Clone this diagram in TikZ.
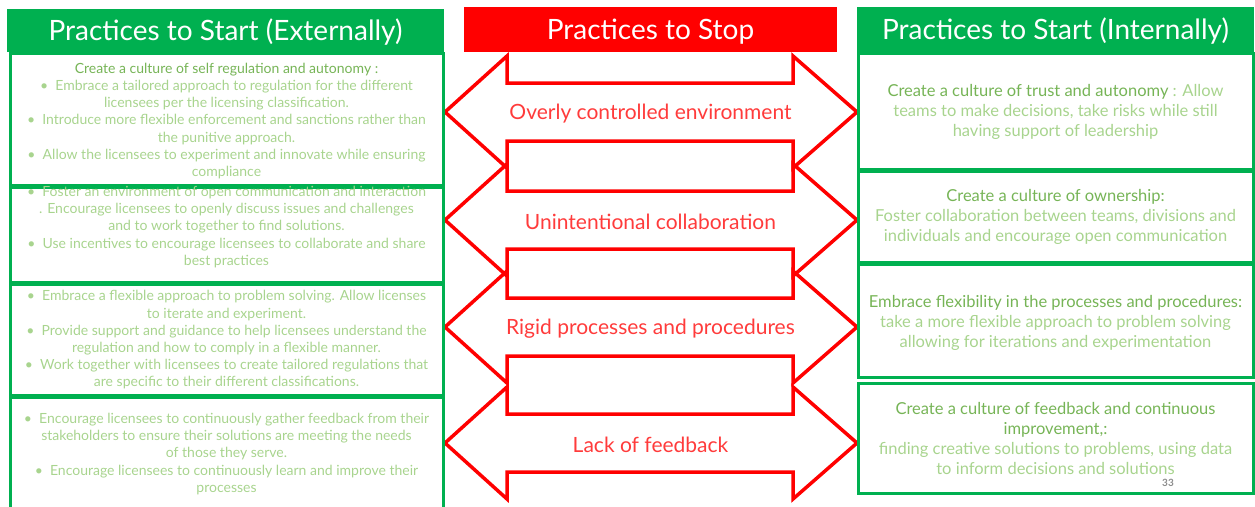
\documentclass[tikz,border=0pt]{standalone}
\usepackage{fontspec}
\setmainfont{Lato}
\definecolor{startgreen}{HTML}{00B050}
\definecolor{stopred}{HTML}{FF0000}
\definecolor{lblred}{HTML}{FF3B3B}
\definecolor{leadgreen}{HTML}{76B456}
\definecolor{bodygreen}{HTML}{A8D48E}
\definecolor{pagegrey}{HTML}{8C8C8C}
\newcommand{\leadtxt}[1]{\textcolor{leadgreen}{#1}}
\tikzset{
  hdrbox/.style={inner sep=0pt, text=white, font=\fontsize{28}{32}\selectfont, text height=24pt, text depth=5pt},
  boxline/.style={draw=startgreen, line width=3pt},
  exttxt/.style={text=bodygreen, align=center, font=\fontsize{14}{17.2}\selectfont},
  inttxt/.style={text=bodygreen, align=center, font=\fontsize{16.5}{20}\selectfont},
  stoparrow/.style={draw=stopred, line width=3.5pt, line join=miter},
  stoplbl/.style={text=lblred, font=\fontsize{21}{24}\selectfont, yshift=-2pt},
}
\begin{document}
\begin{tikzpicture}[x=1pt,y=-1pt]
  \useasboundingbox (0,0) rectangle (1255,506);

  % the four stop arrows
  \foreach \yc/\lbl [count=\i] in {112/Overly controlled environment,220/Unintentional collaboration,327/Rigid processes and procedures,443/Lack of feedback}{
    \draw[stoparrow] (445,\yc) -- (507,{\yc-56}) -- (507,{\yc-29}) -- (793,{\yc-29}) -- (793,{\yc-56}) -- (857,\yc)
      -- (793,{\yc+56}) -- (793,{\yc+29}) -- (507,{\yc+29}) -- (507,{\yc+56}) -- cycle;
    \node[stoplbl] (stop\i) at (650.5,\yc) {\lbl};
  }

  % headers
  \node[hdrbox, fill=startgreen, minimum width=437pt, minimum height=43pt] (hExt) at (225.5,30.5) {Practices to Start (Externally)};
  \node[hdrbox, fill=stopred, minimum width=373pt, minimum height=45pt] (hStop) at (650.5,29.5) {Practices to Stop};
  \node[hdrbox, fill=startgreen, minimum width=397pt, minimum height=45pt] (hInt) at (1055.5,29.5) {Practices to Start (Internally)};

  % left boxes
  \draw[boxline] (10,53) rectangle (443,185);
  \draw[boxline] (10,187) rectangle (443,282);
  \draw[boxline] (10,284) rectangle (443,395);
  \draw[boxline] (10,397) rectangle (443,512);

  % right boxes
  \draw[boxline] (858,53) rectangle (1253,169);
  \draw[boxline] (858,171) rectangle (1253,262);
  \draw[boxline] (858,264) rectangle (1253,377);
  \draw[boxline] (858,383) rectangle (1253,493);

  \node[exttxt] (ext1) at (226.5,121) {\leadtxt{Create a culture of self regulation and autonomy :}\\
    \textbullet\ \ Embrace a tailored approach to regulation for the different\\
    licensees per the licensing classification.\\
    \textbullet\ \ Introduce more flexible enforcement and sanctions rather than\\
    the punitive approach.\\
    \textbullet\ \ Allow the licensees to experiment and innovate while ensuring\\
    compliance};
  \node[exttxt] (ext2) at (226.5,227) {\textbullet\ \ Foster an environment of  open communication and interaction\\
    . Encourage licensees to openly discuss issues and challenges\\
    and to work together to find solutions.\\
    \textbullet\ \ Use incentives to encourage licensees to collaborate and share\\
    best practices};
  \node[exttxt] (ext3) at (226.5,340) {\textbullet\ \ Embrace a flexible approach to problem solving. Allow licenses\\
    to iterate and experiment.\\
    \textbullet\ \ Provide support and guidance to help licensees understand the\\
    regulation and how to comply in a flexible manner.\\
    \textbullet\ \ Work together with licensees to create tailored regulations that\\
    are specific to their different classifications.};
  \node[exttxt] (ext4) at (226.5,454) {\textbullet\ \ Encourage licensees to continuously gather feedback from their\\
    stakeholders to ensure their solutions are meeting the needs\\
    of those they serve.\\
    \textbullet\ \ Encourage licensees to continuously learn and improve their\\
    processes};

  \node[inttxt] (int1) at (1055.5,112) {\leadtxt{Create a culture of trust and autonomy} : Allow\\
    teams to make decisions, take risks while still\\
    having support of leadership};
  \node[inttxt] (int2) at (1055.5,217) {\leadtxt{Create a culture of ownership:}\\
    Foster collaboration between teams, divisions and\\
    individuals and encourage open communication};
  \node[inttxt] (int3) at (1055.5,323) {\leadtxt{Embrace flexibility in the processes and procedures:}\\
    take a more flexible approach to problem solving\\
    allowing for iterations and experimentation};
  \node[inttxt] (int4) at (1055.5,438) {\leadtxt{Create a culture of feedback and continuous}\\
    \leadtxt{improvement,:}\\
    finding creative solutions to problems, using data\\
    to inform decisions and solutions};

  \node[text=pagegrey, font=\fontsize{10}{12}\selectfont\bfseries] (pgno) at (1168,483) {33};
\end{tikzpicture}
\end{document}
